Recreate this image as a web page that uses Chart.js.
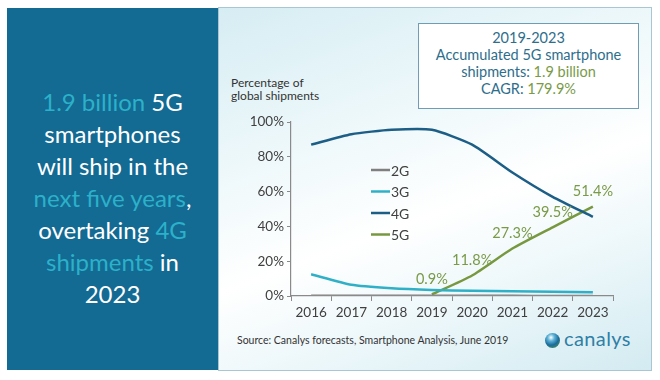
<!DOCTYPE html>
<html>
<head>
<meta charset="utf-8">
<script src="https://cdn.jsdelivr.net/npm/chart.js@4.4.1/dist/chart.umd.min.js"></script>
<style>
  body { margin: 0; background: #fff; font-family: Lato, "Open Sans", sans-serif; }
  #wrap { position: relative; width: 660px; height: 380px; overflow: hidden; }
  #left {
    position: absolute; left: 7px; top: 8px; width: 211px; height: 362px;
    background: #136a93;
  }
  #left .txt {
    position: absolute; left: 0; top: 78px; width: 211px;
    text-align: center; color: #fff; font-size: 24px; line-height: 32px;
  }
  #left .hl { color: #2bb1c9; }
  #right {
    position: absolute; left: 218px; top: 7px; width: 432px; height: 362px;
    border: 1px solid #a9c6d3;
    background: linear-gradient(160deg, #d6edf3 0%, #f0f9fb 35%, #ffffff 55%, #ecf7fa 75%, #d3ebf1 100%);
  }
  #info {
    position: absolute; left: 418px; top: 23px; width: 219px; height: 79px;
    border: 1px solid #6f9db3; background: #fff;
    text-align: center; color: #2d6e8c; font-size: 14.5px; line-height: 17px;
    padding-top: 5px; box-sizing: content-box;
  }
  #info .g { color: #7a9a48; }
  #ytitle {
    position: absolute; left: 231px; top: 76px; font-size: 12px; line-height: 13px; color: #333;
  }
  #source {
    position: absolute; left: 237px; top: 334px; font-size: 10.5px; color: #333;
  }
  #logo { position: absolute; left: 545px; top: 329px; height: 24px; }
  #globe {
    position: absolute; left: 0; top: 4px; width: 15px; height: 15px; border-radius: 50%;
    background: radial-gradient(circle at 40% 30%, #ffffff 0%, #5fb3d8 25%, #1b6c9e 55%, #5a9e3e 100%);
  }
  #logo .name {
    position: absolute; left: 19px; top: -3px; font-size: 20px; color: #2f7fa6; letter-spacing: 0.4px;
  }
  canvas { position: absolute; left: 0; top: 0; }
</style>
</head>
<body>
<div id="wrap">
  <div id="left">
    <div class="txt">
      <span class="hl">1.9 billion</span> 5G<br>
      smartphones<br>
      will ship in the<br>
      <span class="hl">next five years</span>,<br>
      overtaking <span class="hl">4G</span><br>
      <span class="hl">shipments</span> in<br>
      2023
    </div>
  </div>
  <div id="right"></div>
  <div id="info">
    2019-2023<br>
    Accumulated 5G smartphone<br>
    shipments: <span class="g">1.9 billion</span><br>
    CAGR: <span class="g">179.9%</span>
  </div>
  <div id="ytitle">Percentage of<br>global shipments</div>
  <div id="source">Source: Canalys forecasts, Smartphone Analysis, June 2019</div>
  <div id="logo"><div id="globe"></div><div class="name">canalys</div></div>
  <canvas id="chart" width="660" height="380"></canvas>
</div>
<script>
const years = ["2016", "2017", "2018", "2019", "2020", "2021", "2022", "2023"];
const share2G = [0.2, 0.1, 0.1, 0.1, 0.1, 0.1, 0.0, 0.0];
const share3G = [12.5, 6.5, 4.5, 3.5, 3.0, 2.8, 2.5, 2.1];
const share4G = [87.0, 93.0, 95.5, 95.5, 87.0, 71.0, 57.0, 45.5];
const share5G = [null, null, null, 0.9, 11.8, 27.3, 39.5, 51.4];
const yTicks = [0, 20, 40, 60, 80, 100];

const axisColor = "#8a8a8a";
const textColor = "#404040";

// legend drawn inside the plot, lines then names
const innerLegend = {
  id: "innerLegend",
  afterDatasetsDraw(chart) {
    const ctx = chart.ctx;
    const area = chart.chartArea;
    ctx.save();
    ctx.font = "14px Lato";
    ctx.textBaseline = "middle";
    chart.data.datasets.forEach((ds, i) => {
      const x = area.left + 80;
      const y = area.top + 48 + i * 21.5;
      ctx.strokeStyle = ds.borderColor;
      ctx.lineWidth = 2.5;
      ctx.beginPath();
      ctx.moveTo(x, y);
      ctx.lineTo(x + 19, y);
      ctx.stroke();
      ctx.fillStyle = textColor;
      ctx.fillText(ds.label, x + 20, y + 1);
    });
    ctx.restore();
  }
};

// value labels over the 5G points
const pointLabels = {
  id: "pointLabels",
  afterDatasetsDraw(chart) {
    const ctx = chart.ctx;
    const meta = chart.getDatasetMeta(3);
    ctx.save();
    ctx.font = "14.5px Lato";
    ctx.fillStyle = "#7a9a48";
    ctx.textAlign = "center";
    ctx.textBaseline = "middle";
    meta.data.forEach((pt, i) => {
      const v = share5G[i];
      if (v === null) return;
      ctx.fillText(v.toFixed(1) + "%", pt.x, pt.y - 15);
    });
    ctx.restore();
  }
};

const ctx = document.getElementById("chart").getContext("2d");
new Chart(ctx, {
  type: "line",
  data: {
    labels: years,
    datasets: [
      { label: "2G", data: share2G, borderColor: "#7f7f7f" },
      { label: "3G", data: share3G, borderColor: "#2fb0c6" },
      { label: "4G", data: share4G, borderColor: "#1c5e86" },
      { label: "5G", data: share5G, borderColor: "#77983f" }
    ].map(d => Object.assign(d, {
      borderWidth: 2.5, pointRadius: 0, tension: 0.2, fill: false, spanGaps: false
    }))
  },
  options: {
    responsive: false,
    animation: false,
    layout: { padding: { left: 240, right: 47, top: 122, bottom: 50 } },
    plugins: { legend: { display: false }, tooltip: { enabled: false } },
    scales: {
      x: {
        offset: true,
        afterFit(s) { s.height = 34; },
        grid: { offset: true, drawOnChartArea: false, tickLength: 5, color: axisColor },
        border: { color: axisColor, width: 1.2, z: 1 },
        ticks: { color: textColor, font: { family: "Lato", size: 13.5 }, padding: 4, maxRotation: 0 }
      },
      y: {
        min: 0, max: 100,
        afterFit(s) { s.width = 51; },
        afterBuildTicks(s) { s.ticks = yTicks.map(v => ({ value: v })); },
        grid: { drawOnChartArea: false, tickLength: 4, color: axisColor },
        border: { color: axisColor, width: 1.2 },
        ticks: { color: textColor, font: { family: "Lato", size: 13.5 }, padding: 3, callback: v => v + "%" }
      }
    }
  },
  plugins: [innerLegend, pointLabels]
});
</script>
</body>
</html>
